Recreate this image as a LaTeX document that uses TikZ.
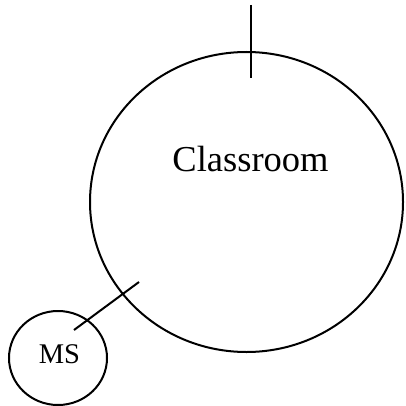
\documentclass[tikz,border=0pt]{standalone}
\usepackage{fontspec}
\setmainfont{Liberation Serif}
\usetikzlibrary{shapes.geometric}
\begin{document}
\begin{tikzpicture}[x=1pt,y=-1pt,line width=2pt,
  shape outline/.style={draw, ellipse, inner sep=0pt},
  bigtext/.style={anchor=base, inner sep=0pt, font=\fontsize{36.5}{40}\selectfont},
  smalltext/.style={anchor=base, inner sep=0pt, font=\fontsize{28.5}{32}\selectfont}]
\useasboundingbox (0,0) rectangle (405,406);
\node[shape outline, minimum width=313pt, minimum height=300pt] (room) at (246.5,202) {};
\node[bigtext] (roomlabel) at (250.5,171.5) {Classroom};
\node[shape outline, minimum width=98pt, minimum height=94pt] (ms) at (58,358) {};
\node[smalltext] (mslabel) at (59.5,363) {MS};
\coordinate (topA) at (250.5,5);
\coordinate (topB) at (250.5,78);
\draw (topA) -- (topB);
\coordinate (diagA) at (74,330);
\coordinate (diagB) at (139,282);
\draw (diagA) -- (diagB);
\end{tikzpicture}
\end{document}
